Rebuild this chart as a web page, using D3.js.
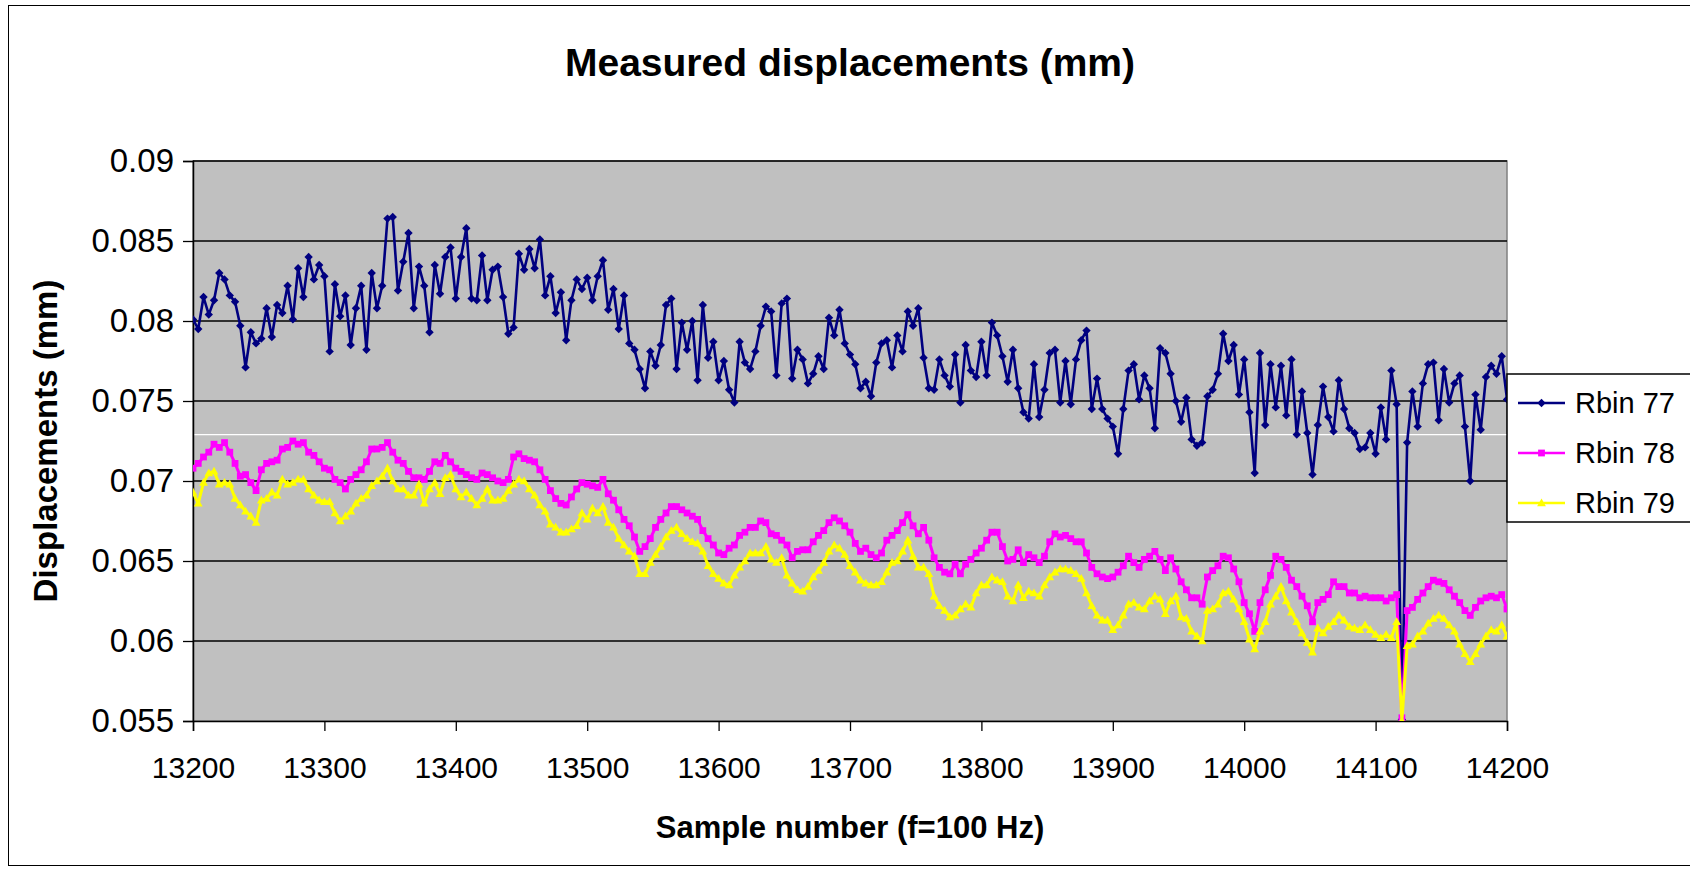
<!DOCTYPE html>
<html lang="en">
<head>
<meta charset="UTF-8">
<title>Measured displacements (mm)</title>
<style>
  body { margin: 0; background: #fff; }
  svg { display: block; font-family: "Liberation Sans", Arial, sans-serif; }
</style>
<script src="https://d3js.org/d3.v7.min.js"></script>
</head>
<body>
<svg width="1690" height="869"></svg>
<script>
// sample numbers (every 4th sample)
const samples = d3.range(13200, 14201, 4);

const rbin77 = [
  0.0801, 0.0795, 0.0815, 0.0804, 0.0813, 0.0830, 0.0826, 0.0816, 0.0812, 0.0797,
  0.0771, 0.0793, 0.0786, 0.0789, 0.0808, 0.0790, 0.0810, 0.0805, 0.0822, 0.0801,
  0.0833, 0.0815, 0.0840, 0.0826, 0.0835, 0.0828, 0.0781, 0.0823, 0.0803, 0.0816,
  0.0785, 0.0808, 0.0822, 0.0782, 0.0830, 0.0808,
  0.0822, 0.0864, 0.0865, 0.0819, 0.0837, 0.0855, 0.0808, 0.0834, 0.0822, 0.0793,
  0.0835, 0.0817, 0.0840, 0.0846, 0.0814, 0.0840, 0.0858, 0.0814, 0.0813, 0.0841,
  0.0813, 0.0832, 0.0834, 0.0815, 0.0792, 0.0796, 0.0842, 0.0832, 0.0845, 0.0833,
  0.0851, 0.0816, 0.0828, 0.0805, 0.0818, 0.0788, 0.0813, 0.0826, 0.0820,
  0.0827, 0.0813, 0.0828, 0.0838, 0.0807, 0.0820, 0.0795, 0.0816, 0.0786, 0.0782,
  0.0770, 0.0758, 0.0781, 0.0772, 0.0785, 0.0810, 0.0814, 0.0770, 0.0799, 0.0782,
  0.0800, 0.0763, 0.0810, 0.0777, 0.0787, 0.0763, 0.0775, 0.0757, 0.0749, 0.0787,
  0.0774, 0.0770, 0.0781, 0.0797, 0.0809, 0.0806, 0.0766, 0.0811, 0.0814,
  0.0764, 0.0782, 0.0776, 0.0761, 0.0767, 0.0778, 0.0770, 0.0802, 0.0791, 0.0807,
  0.0786, 0.0779, 0.0773, 0.0758, 0.0762, 0.0753, 0.0774, 0.0786, 0.0788, 0.0771,
  0.0791, 0.0781, 0.0806, 0.0797, 0.0808, 0.0777, 0.0758, 0.0757, 0.0776, 0.0766,
  0.0759, 0.0779, 0.0749, 0.0785, 0.0769, 0.0765, 0.0787, 0.0766, 0.0799,
  0.0791, 0.0778, 0.0762, 0.0782, 0.0758, 0.0743, 0.0739, 0.0773, 0.0740, 0.0757,
  0.0780, 0.0782, 0.0749, 0.0775, 0.0748, 0.0776, 0.0788, 0.0794, 0.0745, 0.0764,
  0.0745, 0.0739, 0.0734, 0.0717, 0.0745, 0.0769, 0.0773, 0.0751, 0.0766, 0.0758,
  0.0733, 0.0783, 0.0780, 0.0767, 0.0750, 0.0737, 0.0752, 0.0726, 0.0722,
  0.0724, 0.0753, 0.0757, 0.0767, 0.0792, 0.0775, 0.0785, 0.0754, 0.0776, 0.0743,
  0.0705, 0.0780, 0.0735, 0.0773, 0.0746, 0.0772, 0.0741, 0.0776, 0.0729, 0.0756,
  0.0730, 0.0704, 0.0735, 0.0759, 0.0740, 0.0731, 0.0763, 0.0745, 0.0733, 0.0730,
  0.0720, 0.0721, 0.0730, 0.0717, 0.0746, 0.0726, 0.0769, 0.0748, 0.0551,
  0.0724, 0.0756, 0.0734, 0.0761, 0.0773, 0.0774, 0.0738, 0.0770, 0.0749, 0.0761,
  0.0766, 0.0734, 0.0700, 0.0754, 0.0732, 0.0765, 0.0772, 0.0767, 0.0778, 0.0751
];

const rbin78 = [
  0.0708, 0.0711, 0.0715, 0.0718, 0.0723, 0.0721, 0.0724, 0.0718, 0.0711, 0.0703,
  0.0704, 0.0699, 0.0694, 0.0707, 0.0711, 0.0712, 0.0713, 0.0720, 0.0721, 0.0725,
  0.0723, 0.0724, 0.0718, 0.0716, 0.0712, 0.0708, 0.0707, 0.0701, 0.0699, 0.0695,
  0.0701, 0.0704, 0.0707, 0.0712, 0.0720, 0.0720,
  0.0721, 0.0724, 0.0718, 0.0713, 0.0711, 0.0706, 0.0702, 0.0702, 0.0701, 0.0706,
  0.0712, 0.0711, 0.0716, 0.0712, 0.0708, 0.0706, 0.0704, 0.0702, 0.0701, 0.0705,
  0.0704, 0.0702, 0.0700, 0.0699, 0.0701, 0.0715, 0.0717, 0.0714, 0.0713, 0.0712,
  0.0707, 0.0701, 0.0694, 0.0689, 0.0686, 0.0685, 0.0690, 0.0695, 0.0699,
  0.0698, 0.0697, 0.0696, 0.0701, 0.0692, 0.0688, 0.0682, 0.0676, 0.0672, 0.0665,
  0.0656, 0.0659, 0.0664, 0.0671, 0.0676, 0.0680, 0.0684, 0.0684, 0.0682, 0.0680,
  0.0678, 0.0676, 0.0669, 0.0664, 0.0660, 0.0655, 0.0654, 0.0658, 0.0660, 0.0666,
  0.0668, 0.0671, 0.0671, 0.0675, 0.0674, 0.0667, 0.0666, 0.0663, 0.0660,
  0.0652, 0.0656, 0.0657, 0.0657, 0.0662, 0.0666, 0.0669, 0.0674, 0.0677, 0.0675,
  0.0672, 0.0668, 0.0661, 0.0656, 0.0658, 0.0654, 0.0652, 0.0655, 0.0663, 0.0666,
  0.0669, 0.0674, 0.0679, 0.0672, 0.0667, 0.0671, 0.0663, 0.0652, 0.0646, 0.0643,
  0.0642, 0.0648, 0.0642, 0.0648, 0.0651, 0.0655, 0.0658, 0.0663, 0.0668,
  0.0668, 0.0659, 0.0650, 0.0651, 0.0657, 0.0649, 0.0654, 0.0652, 0.0649, 0.0653,
  0.0662, 0.0667, 0.0665, 0.0666, 0.0664, 0.0662, 0.0662, 0.0655, 0.0646, 0.0642,
  0.0640, 0.0639, 0.0640, 0.0643, 0.0647, 0.0653, 0.0649, 0.0646, 0.0651, 0.0653,
  0.0656, 0.0651, 0.0644, 0.0652, 0.0645, 0.0637, 0.0632, 0.0627, 0.0627,
  0.0623, 0.0640, 0.0644, 0.0647, 0.0653, 0.0652, 0.0645, 0.0637, 0.0624, 0.0617,
  0.0606, 0.0624, 0.0632, 0.0641, 0.0653, 0.0651, 0.0646, 0.0638, 0.0634, 0.0628,
  0.0622, 0.0612, 0.0624, 0.0626, 0.0629, 0.0637, 0.0634, 0.0634, 0.0630, 0.0630,
  0.0627, 0.0628, 0.0627, 0.0627, 0.0627, 0.0625, 0.0627, 0.0629, 0.0552,
  0.0619, 0.0621, 0.0626, 0.0630, 0.0634, 0.0638, 0.0637, 0.0636, 0.0632, 0.0628,
  0.0624, 0.0619, 0.0616, 0.0621, 0.0625, 0.0627, 0.0628, 0.0627, 0.0629, 0.0620
];

const rbin79 = [
  0.0693, 0.0686, 0.0699, 0.0705, 0.0706, 0.0698, 0.0699, 0.0698, 0.0689, 0.0685,
  0.0681, 0.0678, 0.0674, 0.0688, 0.0689, 0.0693, 0.0691, 0.0701, 0.0698, 0.0699,
  0.0701, 0.0701, 0.0695, 0.0691, 0.0688, 0.0687, 0.0687, 0.0680, 0.0675, 0.0678,
  0.0681, 0.0686, 0.0689, 0.0691, 0.0697, 0.0700,
  0.0703, 0.0708, 0.0700, 0.0695, 0.0695, 0.0691, 0.0691, 0.0698, 0.0686, 0.0695,
  0.0699, 0.0692, 0.0702, 0.0704, 0.0695, 0.0690, 0.0693, 0.0689, 0.0685, 0.0689,
  0.0695, 0.0688, 0.0688, 0.0689, 0.0694, 0.0698, 0.0701, 0.0700, 0.0695, 0.0691,
  0.0685, 0.0681, 0.0673, 0.0671, 0.0668, 0.0668, 0.0670, 0.0672, 0.0680,
  0.0676, 0.0683, 0.0680, 0.0684, 0.0674, 0.0671, 0.0664, 0.0660, 0.0656, 0.0653,
  0.0642, 0.0642, 0.0649, 0.0654, 0.0659, 0.0665, 0.0669, 0.0671, 0.0667, 0.0664,
  0.0662, 0.0661, 0.0656, 0.0647, 0.0642, 0.0639, 0.0636, 0.0635, 0.0641, 0.0646,
  0.0650, 0.0655, 0.0655, 0.0655, 0.0659, 0.0651, 0.0649, 0.0652, 0.0641,
  0.0636, 0.0632, 0.0631, 0.0634, 0.0640, 0.0644, 0.0649, 0.0656, 0.0660, 0.0658,
  0.0654, 0.0647, 0.0643, 0.0638, 0.0636, 0.0635, 0.0635, 0.0637, 0.0643, 0.0649,
  0.0650, 0.0656, 0.0663, 0.0653, 0.0646, 0.0646, 0.0642, 0.0628, 0.0622, 0.0619,
  0.0615, 0.0616, 0.0620, 0.0623, 0.0621, 0.0630, 0.0635, 0.0635, 0.0640,
  0.0638, 0.0637, 0.0628, 0.0625, 0.0635, 0.0627, 0.0631, 0.0630, 0.0628, 0.0635,
  0.0640, 0.0643, 0.0645, 0.0645, 0.0644, 0.0642, 0.0639, 0.0630, 0.0622, 0.0616,
  0.0613, 0.0613, 0.0607, 0.0610, 0.0616, 0.0623, 0.0624, 0.0621, 0.0620, 0.0625,
  0.0628, 0.0626, 0.0617, 0.0625, 0.0628, 0.0615, 0.0614, 0.0606, 0.0603,
  0.0600, 0.0619, 0.0620, 0.0623, 0.0630, 0.0631, 0.0626, 0.0620, 0.0612, 0.0601,
  0.0595, 0.0606, 0.0612, 0.0623, 0.0628, 0.0634, 0.0625, 0.0618, 0.0612, 0.0605,
  0.0599, 0.0593, 0.0608, 0.0605, 0.0609, 0.0612, 0.0616, 0.0613, 0.0609, 0.0608,
  0.0607, 0.0610, 0.0607, 0.0604, 0.0602, 0.0604, 0.0602, 0.0612, 0.0550,
  0.0597, 0.0598, 0.0603, 0.0606, 0.0611, 0.0614, 0.0616, 0.0614, 0.0610, 0.0606,
  0.0598, 0.0592, 0.0587, 0.0592, 0.0598, 0.0603, 0.0607, 0.0606, 0.0610, 0.0603
];

const xTicks = [13200, 13300, 13400, 13500, 13600, 13700, 13800, 13900, 14000, 14100, 14200];
const yTicks = [0.055, 0.06, 0.065, 0.07, 0.075, 0.08, 0.085, 0.09];
const whiteLevel = [0.0729];   // thin white horizontal line in the plot area

const series = [
  { name: "Rbin 77", values: rbin77, color: "#000080", marker: "diamond", width: 2.6 },
  { name: "Rbin 78", values: rbin78, color: "#FF00FF", marker: "square", width: 3 },
  { name: "Rbin 79", values: rbin79, color: "#FFFF00", marker: "triangle", width: 3 }
];

const width = 1690, height = 869;
const plot = { left: 193, right: 1507, top: 161, bottom: 721 };

const svg = d3.select("svg");

const x = d3.scaleLinear().domain([13200, 14200]).range([plot.left, plot.right]);
const y = d3.scaleLinear().domain([0.055, 0.09]).range([plot.bottom, plot.top]);

// chart border
svg.append("rect")
    .attr("x", 8.5).attr("y", 5.5)
    .attr("width", width).attr("height", 860)
    .attr("fill", "#fff").attr("stroke", "#000").attr("stroke-width", 1);

// title
svg.append("text")
    .attr("x", 850).attr("y", 76)
    .attr("text-anchor", "middle")
    .attr("font-size", 39).attr("font-weight", "bold")
    .text("Measured displacements (mm)");

// plot area
svg.append("rect")
    .attr("x", plot.left).attr("y", plot.top)
    .attr("width", plot.right - plot.left).attr("height", plot.bottom - plot.top)
    .attr("fill", "#C0C0C0").attr("stroke", "#808080").attr("stroke-width", 1.5);

// gridlines
svg.append("g")
    .selectAll("line")
    .data(yTicks.filter(d => d > 0.055))
    .join("line")
    .attr("x1", plot.left).attr("x2", plot.right)
    .attr("y1", d => y(d)).attr("y2", d => y(d))
    .attr("stroke", "#000").attr("stroke-width", 1.3);

svg.append("g")
    .selectAll("line")
    .data(whiteLevel)
    .join("line")
    .attr("x1", plot.left).attr("x2", plot.right)
    .attr("y1", d => y(d)).attr("y2", d => y(d))
    .attr("stroke", "#fff").attr("stroke-width", 1.3);

// axes
const yAxis = svg.append("g")
    .attr("transform", `translate(${plot.left},0)`)
    .call(d3.axisLeft(y).tickValues(yTicks).tickFormat(d3.format("~g")).tickSize(10).tickPadding(9));
const xAxis = svg.append("g")
    .attr("transform", `translate(0,${plot.bottom})`)
    .call(d3.axisBottom(x).tickValues(xTicks).tickFormat(d3.format("d")).tickSize(10).tickPadding(26));

[yAxis, xAxis].forEach(g => {
  g.select(".domain").attr("stroke", "#000").attr("stroke-width", 1.5);
  g.selectAll(".tick line").attr("stroke", "#000").attr("stroke-width", 1.3);
  g.selectAll(".tick text")
      .attr("font-family", "'Liberation Sans', Arial, sans-serif")
      .attr("fill", "#000");
});
yAxis.selectAll(".tick text").attr("font-size", 33);
xAxis.selectAll(".tick text").attr("font-size", 30);

// axis titles
svg.append("text")
    .attr("transform", `translate(57,${(plot.top + plot.bottom) / 2}) rotate(-90)`)
    .attr("text-anchor", "middle")
    .attr("font-size", 33).attr("font-weight", "bold")
    .text("Displacements (mm)");

svg.append("text")
    .attr("x", (plot.left + plot.right) / 2).attr("y", 838)
    .attr("text-anchor", "middle")
    .attr("font-size", 31).attr("font-weight", "bold")
    .text("Sample number (f=100 Hz)");

// markers
function markerPath(type) {
  if (type === "diamond") return "M0,-4.2L4.2,0L0,4.2L-4.2,0Z";
  if (type === "square") return "M-3.4,-3.4H3.4V3.4H-3.4Z";
  return "M0,-4.6L4.4,3.2H-4.4Z";
}

svg.append("clipPath").attr("id", "clip")
  .append("rect")
    .attr("x", plot.left).attr("y", plot.top - 5)
    .attr("width", plot.right - plot.left).attr("height", plot.bottom - plot.top + 5);

const line = d3.line()
    .x((d, i) => x(samples[i]))
    .y(d => y(d));

const seriesG = svg.append("g").attr("clip-path", "url(#clip)");

series.forEach(s => {
  const g = seriesG.append("g");
  g.append("path")
      .datum(s.values)
      .attr("fill", "none")
      .attr("stroke", s.color)
      .attr("stroke-width", s.width)
      .attr("stroke-linejoin", "round")
      .attr("d", line);
  g.selectAll("path.mk")
      .data(s.values)
      .join("path")
      .attr("class", "mk")
      .attr("transform", (d, i) => `translate(${x(samples[i])},${y(d)})`)
      .attr("d", markerPath(s.marker))
      .attr("fill", s.color);
});

// legend
const legend = svg.append("g").attr("transform", "translate(1507,374)");
legend.append("rect")
    .attr("width", 190).attr("height", 148)
    .attr("fill", "#fff").attr("stroke", "#000").attr("stroke-width", 1.5);

const item = legend.selectAll("g.item")
    .data(series)
    .join("g")
    .attr("class", "item")
    .attr("transform", (d, i) => `translate(0,${29 + i * 50})`);

item.append("line")
    .attr("x1", 11).attr("x2", 58)
    .attr("stroke", d => d.color).attr("stroke-width", 2.6);
item.append("path")
    .attr("transform", "translate(34.5,0)")
    .attr("d", d => markerPath(d.marker))
    .attr("fill", d => d.color);
item.append("text")
    .attr("x", 68).attr("dy", "0.35em")
    .attr("font-size", 29)
    .text(d => d.name);
</script>
</body>
</html>
